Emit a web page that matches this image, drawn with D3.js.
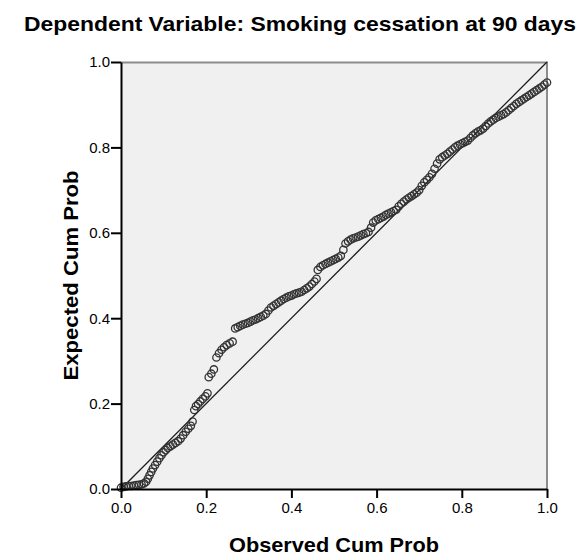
<!DOCTYPE html>
<html>
<head>
<meta charset="utf-8">
<script src="https://cdn.jsdelivr.net/npm/d3@7"></script>
<style>
  body { margin: 0; background: #fff; }
  svg text { font-family: "Liberation Sans", Arial, sans-serif; fill: #000; }
</style>
</head>
<body>
<svg id="chart"></svg>
<script>
// observed vs expected cumulative probabilities
var observed = [
  0.000, 0.006, 0.012, 0.018, 0.024, 0.030, 0.036, 0.042, 0.048, 0.054,
  0.059, 0.063, 0.067, 0.071, 0.075, 0.080, 0.085, 0.090, 0.095, 0.100,
  0.105, 0.110, 0.116, 0.122, 0.128, 0.134, 0.140, 0.146, 0.152, 0.158,
  0.164, 0.168, 0.172, 0.176, 0.181, 0.186, 0.192, 0.198, 0.203, 0.206,
  0.212, 0.218, 0.224, 0.230, 0.236, 0.242, 0.248, 0.255, 0.262, 0.268,
  0.274, 0.280, 0.286, 0.292, 0.298, 0.304, 0.310, 0.316, 0.322, 0.328,
  0.334, 0.340, 0.346, 0.352, 0.358, 0.364, 0.370, 0.376, 0.382, 0.388,
  0.394, 0.400, 0.406, 0.412, 0.418, 0.424, 0.430, 0.436, 0.442, 0.448,
  0.454, 0.459, 0.462, 0.468, 0.474, 0.480, 0.486, 0.492, 0.498, 0.504,
  0.510, 0.516, 0.522, 0.527, 0.533, 0.539, 0.545, 0.551, 0.557, 0.563,
  0.569, 0.575, 0.581, 0.587, 0.592, 0.598, 0.604, 0.610, 0.616, 0.622,
  0.628, 0.634, 0.640, 0.646, 0.652, 0.658, 0.664, 0.670, 0.676, 0.682,
  0.688, 0.694, 0.700, 0.706, 0.712, 0.718, 0.724, 0.730, 0.736, 0.742,
  0.748, 0.754, 0.760, 0.766, 0.772, 0.778, 0.784, 0.790, 0.796, 0.802,
  0.808, 0.814, 0.820, 0.826, 0.832, 0.838, 0.844, 0.850, 0.856, 0.862,
  0.868, 0.874, 0.880, 0.886, 0.892, 0.898, 0.904, 0.910, 0.916, 0.922,
  0.928, 0.934, 0.940, 0.946, 0.952, 0.958, 0.964, 0.970, 0.976, 0.982,
  0.988, 0.994, 1.000
];
var expected = [
  0.003, 0.005, 0.006, 0.007, 0.007, 0.008, 0.009, 0.010, 0.011, 0.013,
  0.017, 0.024, 0.032, 0.040, 0.048, 0.056, 0.064, 0.072, 0.079, 0.086,
  0.091, 0.096, 0.100, 0.104, 0.108, 0.112, 0.118, 0.126, 0.134, 0.141,
  0.148, 0.158, 0.185, 0.194, 0.199, 0.205, 0.211, 0.217, 0.224, 0.262,
  0.270, 0.280, 0.308, 0.318, 0.326, 0.332, 0.337, 0.341, 0.345, 0.376,
  0.379, 0.382, 0.385, 0.387, 0.389, 0.392, 0.395, 0.397, 0.400, 0.403,
  0.406, 0.410, 0.418, 0.425, 0.429, 0.433, 0.437, 0.441, 0.445, 0.448,
  0.451, 0.453, 0.456, 0.458, 0.460, 0.462, 0.466, 0.470, 0.474, 0.480,
  0.486, 0.492, 0.513, 0.520, 0.524, 0.527, 0.530, 0.533, 0.536, 0.539,
  0.542, 0.546, 0.560, 0.575, 0.580, 0.584, 0.587, 0.589, 0.591, 0.594,
  0.597, 0.599, 0.602, 0.612, 0.624, 0.629, 0.632, 0.635, 0.638, 0.642,
  0.645, 0.648, 0.651, 0.654, 0.662, 0.668, 0.673, 0.678, 0.682, 0.686,
  0.690, 0.694, 0.700, 0.710, 0.718, 0.724, 0.730, 0.738, 0.750, 0.762,
  0.772, 0.777, 0.781, 0.785, 0.790, 0.795, 0.800, 0.804, 0.807, 0.810,
  0.813, 0.816, 0.822, 0.828, 0.833, 0.837, 0.840, 0.844, 0.850, 0.856,
  0.861, 0.865, 0.869, 0.872, 0.875, 0.878, 0.882, 0.887, 0.892, 0.897,
  0.902, 0.906, 0.910, 0.914, 0.918, 0.922, 0.926, 0.930, 0.934, 0.938,
  0.942, 0.947, 0.952
];
var tickValues = [0.0, 0.2, 0.4, 0.6, 0.8, 1.0];
var titleText = "Dependent Variable: Smoking cessation at 90 days";
var xLabel = "Observed Cum Prob";
var yLabel = "Expected Cum Prob";

var points = observed.map(function(d, i) { return {obs: d, exp: expected[i]}; });

var totalW = 583, totalH = 556;
var margin = {top: 62, right: 36, bottom: 67, left: 121};
var width = totalW - margin.left - margin.right;
var height = totalH - margin.top - margin.bottom;

var root = d3.select('#chart')
    .attr('width', totalW)
    .attr('height', totalH);

var svg = root.append('g')
    .attr('transform', "translate(" + margin.left + "," + margin.top + ")");

var x = d3.scaleLinear().domain([0, 1]).range([0, width]);
var y = d3.scaleLinear().domain([0, 1]).range([height, 0]);

// plot background
svg.append("rect")
    .attr("width", width)
    .attr("height", height)
    .attr("fill", "#f0f0f0");

// top and right frame (grey)
svg.append("path")
    .attr("d", "M0,0.5H" + width + "V" + height)
    .attr("fill", "none")
    .attr("stroke", "#8c8c8c")
    .attr("stroke-width", 2);

// reference diagonal
svg.append("line")
    .attr("x1", x(0)).attr("y1", y(0))
    .attr("x2", x(1)).attr("y2", y(1))
    .attr("stroke", "#1a1a1a")
    .attr("stroke-width", 1.3);

// points
svg.selectAll(".dot")
    .data(points)
    .enter()
    .append("circle")
    .attr("class", "dot")
    .attr("cx", function(d) { return x(d.obs); })
    .attr("cy", function(d) { return y(d.exp); })
    .attr("r", 3.7)
    .attr("fill", "none")
    .attr("stroke", "#333")
    .attr("stroke-width", 1.3);

var fmt = d3.format(".1f");

var xAxis = svg.append("g")
    .attr("transform", "translate(0," + height + ")")
    .call(d3.axisBottom(x).tickValues(tickValues).tickFormat(fmt).tickSize(9).tickSizeOuter(0));

var yAxis = svg.append("g")
    .call(d3.axisLeft(y).tickValues(tickValues).tickFormat(fmt).tickSize(10).tickSizeOuter(0));

[xAxis, yAxis].forEach(function(g) {
    g.select(".domain").attr("stroke", "#000").attr("stroke-width", 2);
    g.selectAll(".tick line").attr("stroke", "#000").attr("stroke-width", 2);
    g.selectAll(".tick text")
        .attr("fill", "#000")
        .style("font-size", "15px")
        .style("font-family", '"Liberation Sans", Arial, sans-serif');
});
xAxis.selectAll(".tick text").attr("y", 13);
yAxis.selectAll(".tick text").attr("x", -11);

// titles
root.append("text")
    .attr("x", 300)
    .attr("y", 31)
    .attr("text-anchor", "middle")
    .style("font-size", "21px")
    .style("font-weight", "bold")
    .attr("textLength", 552)
    .attr("lengthAdjust", "spacingAndGlyphs")
    .text(titleText);

root.append("text")
    .attr("x", margin.left + width / 2)
    .attr("y", 552)
    .attr("text-anchor", "middle")
    .style("font-size", "21px")
    .style("font-weight", "bold")
    .attr("textLength", 210)
    .attr("lengthAdjust", "spacingAndGlyphs")
    .text(xLabel);

root.append("text")
    .attr("transform", "translate(78," + (margin.top + height / 2) + ") rotate(-90)")
    .attr("text-anchor", "middle")
    .style("font-size", "21px")
    .style("font-weight", "bold")
    .attr("textLength", 210)
    .attr("lengthAdjust", "spacingAndGlyphs")
    .text(yLabel);
</script>
</body>
</html>
